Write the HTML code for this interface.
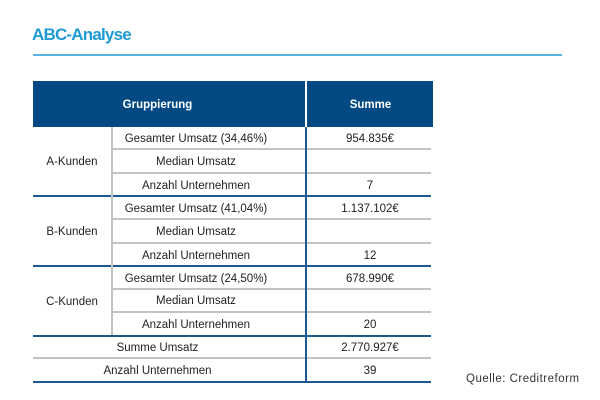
<!DOCTYPE html>
<html>
<head>
<meta charset="utf-8">
<style>
  html,body{margin:0;padding:0;background:#fff;}
  body{width:600px;height:400px;position:relative;overflow:hidden;font-family:"Liberation Sans",Arial,sans-serif;color:#222;}
  .a{position:absolute;}
  .t{position:absolute;font-size:11.5px;text-align:center;white-space:nowrap;}
  .hl{position:absolute;height:2px;}
  .g{background:#c3c3c3;}
  .b{background:#1d5895;}
</style>
</head>
<body>
  <div class="a" style="left:32px;top:25px;height:20px;line-height:20px;font-size:17px;font-weight:bold;color:#1e9ad6;letter-spacing:-0.8px;white-space:nowrap;">ABC-Analyse</div>
  <div class="a" style="left:33px;top:54px;width:529px;height:2px;background:#5ab4e2;"></div>

  <!-- header -->
  <div class="a" style="left:33px;top:81px;width:400px;height:46px;background:#034a85;"></div>
  <div class="a" style="left:305px;top:81px;width:2px;height:46px;background:#fff;"></div>
  <div class="t" style="left:33px;top:82px;width:249px;height:46px;line-height:46px;color:#fff;font-weight:bold;">Gruppierung</div>
  <div class="t" style="left:307px;top:82px;width:127px;height:46px;line-height:46px;color:#fff;font-weight:bold;">Summe</div>

  <!-- horizontal lines -->
  <div class="hl g" style="left:111px;top:148px;width:320px;"></div>
  <div class="hl g" style="left:111px;top:172px;width:320px;"></div>
  <div class="hl b" style="left:33px;top:195px;width:398px;"></div>
  <div class="hl g" style="left:111px;top:218px;width:320px;"></div>
  <div class="hl g" style="left:111px;top:242px;width:320px;"></div>
  <div class="hl b" style="left:33px;top:265px;width:398px;"></div>
  <div class="hl g" style="left:111px;top:288px;width:320px;"></div>
  <div class="hl g" style="left:111px;top:311px;width:320px;"></div>
  <div class="hl b" style="left:33px;top:335px;width:398px;"></div>
  <div class="hl g" style="left:33px;top:357px;width:398px;"></div>
  <div class="hl b" style="left:33px;top:381px;width:398px;"></div>

  <!-- vertical lines -->
  <div class="a" style="left:111px;top:127px;width:2px;height:208px;background:#c3c3c3;"></div>
  <div class="a" style="left:305px;top:127px;width:2px;height:256px;background:#1d5895;"></div>

  <!-- group labels -->
  <div class="t" style="left:33px;top:152px;width:78px;height:20px;line-height:20px;">A-Kunden</div>
  <div class="t" style="left:33px;top:222px;width:78px;height:20px;line-height:20px;">B-Kunden</div>
  <div class="t" style="left:33px;top:292px;width:78px;height:20px;line-height:20px;">C-Kunden</div>

  <!-- middle column -->
  <div class="t" style="left:111px;top:129px;width:170px;height:20px;line-height:20px;">Gesamter Umsatz (34,46%)</div>
  <div class="t" style="left:111px;top:152px;width:170px;height:20px;line-height:20px;">Median Umsatz</div>
  <div class="t" style="left:111px;top:176px;width:170px;height:20px;line-height:20px;">Anzahl Unternehmen</div>
  <div class="t" style="left:111px;top:199px;width:170px;height:20px;line-height:20px;">Gesamter Umsatz (41,04%)</div>
  <div class="t" style="left:111px;top:222px;width:170px;height:20px;line-height:20px;">Median Umsatz</div>
  <div class="t" style="left:111px;top:246px;width:170px;height:20px;line-height:20px;">Anzahl Unternehmen</div>
  <div class="t" style="left:111px;top:269px;width:170px;height:20px;line-height:20px;">Gesamter Umsatz (24,50%)</div>
  <div class="t" style="left:111px;top:291px;width:170px;height:20px;line-height:20px;">Median Umsatz</div>
  <div class="t" style="left:111px;top:315px;width:170px;height:20px;line-height:20px;">Anzahl Unternehmen</div>

  <!-- bottom rows -->
  <div class="t" style="left:33px;top:338px;width:249px;height:20px;line-height:20px;">Summe Umsatz</div>
  <div class="t" style="left:33px;top:361px;width:249px;height:20px;line-height:20px;">Anzahl Unternehmen</div>

  <!-- right column -->
  <div class="t" style="left:306px;top:129px;width:128px;height:20px;line-height:20px;">954.835€</div>
  <div class="t" style="left:306px;top:176px;width:128px;height:20px;line-height:20px;">7</div>
  <div class="t" style="left:306px;top:199px;width:128px;height:20px;line-height:20px;">1.137.102€</div>
  <div class="t" style="left:306px;top:246px;width:128px;height:20px;line-height:20px;">12</div>
  <div class="t" style="left:306px;top:269px;width:128px;height:20px;line-height:20px;">678.990€</div>
  <div class="t" style="left:306px;top:315px;width:128px;height:20px;line-height:20px;">20</div>
  <div class="t" style="left:306px;top:338px;width:128px;height:20px;line-height:20px;">2.770.927€</div>
  <div class="t" style="left:306px;top:361px;width:128px;height:20px;line-height:20px;">39</div>

  <!-- source -->
  <div class="a" style="left:466px;top:372px;height:14px;line-height:14px;font-size:11.5px;color:#333;letter-spacing:0.5px;white-space:nowrap;">Quelle: Creditreform</div>
</body>
</html>
